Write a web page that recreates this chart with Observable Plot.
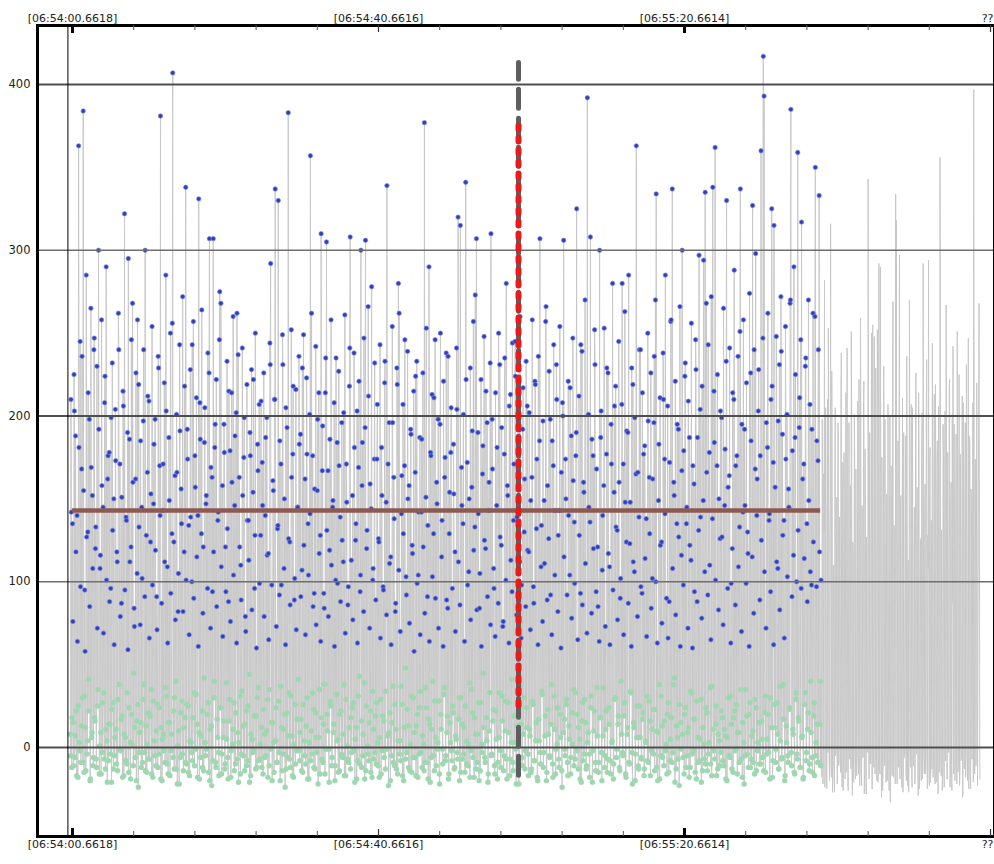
<!DOCTYPE html>
<html><head><meta charset="utf-8">
<script src="https://cdn.jsdelivr.net/npm/d3@7"></script>
<script src="https://cdn.jsdelivr.net/npm/@observablehq/plot@0.6"></script>
<style>html,body{margin:0;padding:0;background:#fff;overflow:hidden}#chart svg{display:block}</style>
</head><body><div id="chart"></div>
<script>
// sample times: seconds relative to 06:54:00.6618
const firstSampleTime = -0.3;
const samplePeriod = 0.1;
// channel A samples carrying dots (blue = peaks, green = lows)
const dotted = [
8,210,-12,135,15,225,-6,188,22,140,-18,363,3,245,-9,168,30,384,-15,95,12,285,-4,130,41,198,-20,265,6,152,-11,240,18,120,-7,230,25,300,-16,108,9,258,-3,145,33,208,-13,290,4,162,
-8,178,14,96,-21,232,27,150,-5,204,11,118,-14,262,38,171,-2,87,19,215,-17,322,6,139,-10,190,295,24,112,-19,246,2,160,45,73,-6,226,16,258,-24,133,9,185,-12,102,29,240,-3,300,13,
-15,166,21,209,-7,124,35,254,-18,147,4,198,-11,91,26,236,-4,170,381,12,-20,143,8,220,-9,285,31,109,-16,187,15,250,-2,129,407,22,-13,164,40,201,-22,82,10,243,-6,156,28,272,-14,118,
18,338,-10,192,25,134,-17,228,3,100,-8,257,33,176,-1,211,14,140,331,-19,186,7,264,-12,121,42,205,-5,152,20,238,-15,307,11,169,-23,94,307,30,181,-9,222,17,137,-3,246,24,268,-16,158,
6,195,-13,121,39,233,-6,88,16,179,-18,214,2,260,27,146,-10,202,262,9,-21,163,31,110,-4,241,13,175,-14,79,22,219,-8,137,44,190,-17,228,5,154,-2,96,250,19,-12,183,36,207,-7,128,
12,172,-16,226,8,140,-5,199,29,117,-11,244,292,15,-20,161,3,210,337,24,-9,132,330,-3,185,37,98,-14,231,11,150,-24,205,21,-6,383,33,124,-12,252,7,177,-18,89,26,216,-2,145,41,236,
-8,189,17,107,-15,249,4,162,-10,223,30,135,-19,201,357,10,-4,176,23,93,-13,242,6,155,-22,214,35,128,310,-7,194,14,84,-16,235,305,20,167,-1,119,28,258,-11,145,9,208,-20,101,32,184,
5,227,-14,139,22,196,-6,112,38,261,-17,171,1,86,-9,218,308,18,-3,152,27,238,-21,125,12,203,-8,169,43,94,300,-12,184,8,247,-19,306,25,131,-4,212,15,159,-15,278,34,108,-7,232,19,
-10,174,3,126,-18,243,29,181,-2,97,16,220,-13,148,339,7,-23,196,21,115,-5,254,37,163,-11,82,11,229,-16,280,262,4,-8,141,26,207,-20,170,48,103,-3,239,13,158,-14,192,31,122,-6,215,
9,166,-17,233,20,104,-4,187,34,142,-12,226,2,377,-9,151,24,91,-19,290,14,178,-6,213,40,129,-14,246,6,160,-1,198,28,-22,250,11,137,-10,221,36,175,-5,89,19,236,-16,154,3,205,-8,
25,183,-13,118,7,241,-3,320,17,-20,315,30,146,-7,201,12,-15,341,4,172,-11,106,39,229,-2,157,21,257,-18,133,8,307,-9,190,27,84,-14,222,2,165,45,248,-6,120,18,196,-21,143,10,232,
310,-4,168,23,96,-16,214,5,181,-9,250,33,127,-12,193,16,76,-5,235,28,280,-19,152,9,206,-7,113,41,244,-14,171,3,224,-22,139,20,188,-6,260,14,98,-11,217,30,162,-2,233,12,119,-17,
202,7,149,-13,258,26,87,-8,219,15,174,-20,236,4,307,-10,134,32,197,-3,111,19,266,-15,158,8,227,-6,92,38,185,-18,243,11,143,-1,210,24,128,-12,254,6,166,-24,200,306,17,-5,150,29,
-9,221,13,104,-16,188,2,247,35,136,-7,176,325,20,-13,212,5,93,-21,239,27,160,-4,270,15,-11,392,9,145,-18,308,31,186,-2,120,22,231,-14,168,7,85,-9,300,18,203,-20,140,36,253,-5,
11,177,-15,226,24,109,-8,195,3,280,-19,154,29,218,-6,131,14,245,-12,90,40,207,-3,171,19,263,-16,124,8,190,285,-10,148,33,229,-22,112,12,199,-4,363,25,166,-13,240,6,97,-7,214,21,
-17,182,4,138,31,250,-9,163,16,226,-2,102,23,196,-14,270,334,10,-20,149,38,211,-5,124,13,238,-11,174,285,2,-16,206,27,88,-8,257,18,337,-3,160,42,221,-13,135,6,192,-23,266,15,116,
300,-6,179,20,232,-12,145,9,209,-18,122,34,256,-4,170,17,94,-15,228,28,187,-9,297,5,139,-21,218,12,294,-7,335,24,166,-14,243,3,110,-10,272,37,338,-2,184,362,14,-17,225,8,150,-11,
203,22,127,-8,265,11,180,-19,330,6,157,-5,241,31,99,-13,214,18,288,-2,170,26,-16,236,9,133,337,-7,195,15,258,-22,146,35,220,-4,117,20,274,-12,185,7,327,-9,240,29,298,-14,162,3,
228,-10,176,360,16,-6,417,393,21,-15,196,5,262,-3,141,30,210,325,-18,172,315,12,-9,248,27,108,-13,231,4,272,-7,189,38,137,-20,254,13,201,-5,156,24,268,385,-11,179,8,290,-16,225,33,
-4,359,18,193,-12,246,317,7,-19,171,26,230,-8,135,11,270,-14,207,40,98,-6,262,19,-17,350,3,185,-9,240,333,14,-11
];
// channel B samples (half a period later) carrying dots
const dottedB = [
-5,142,18,76,-11,203,7,118,-17,64,25,181,-2,97,13,236,-9,155,31,58,-14,127,4,214,22,85,-19,169,9,108,-6,247,16,133,-12,72,35,192,1,116,-16,158,27,69,-7,224,11,101,-21,176,
14,88,-4,199,23,131,-13,62,6,173,-10,112,29,240,-1,79,17,151,-18,206,8,95,-8,137,33,59,-15,186,3,121,20,268,-11,84,12,162,-20,105,26,219,-3,74,15,145,-9,197,38,91,-14,128,
2,212,-7,66,19,153,-16,98,28,183,-5,119,10,71,-12,229,24,140,-19,87,5,171,-2,112,36,203,-10,63,15,149,-17,93,8,256,-6,124,30,77,-13,166,1,105,-22,191,21,135,-4,82,12,218,
-9,101,26,174,-15,68,4,139,-3,243,18,90,-11,157,32,115,-18,61,9,208,-6,129,22,81,-14,184,3,147,-1,96,27,226,-20,72,13,163,-8,118,40,195,-12,85,6,142,-17,275,24,109,-4,67,
16,178,-10,94,5,132,-19,215,29,76,-2,160,11,104,-14,188,21,63,-7,237,3,121,-16,89,34,152,-5,199,14,70,-11,137,25,113,-21,176,8,83,-3,222,19,128,-13,60,30,167,-8,99,2,209,
-12,146,23,79,-6,187,10,116,-18,65,35,231,-1,98,15,155,-15,210,4,73,-9,134,28,92,-20,171,12,249,-4,108,20,62,-13,193,7,126,-7,86,31,163,-17,218,2,102,-10,71,17,145,-2,183,
9,91,-14,229,26,122,-5,68,13,177,-19,104,3,141,-8,262,33,85,-12,156,21,74,-3,198,6,117,-16,64,18,167,-9,93,38,214,-1,131,10,79,-21,186,25,110,-6,149,14,61,-11,235,4,99,
-15,170,20,88,-4,125,8,202,-17,69,29,148,-7,97,12,241,-13,113,24,77,-2,181,5,135,-19,63,31,221,-10,104,16,158,-5,82,39,193,-14,120,1,266,-8,72,22,144,-18,101,11,174,-3,89,
27,207,-11,124,6,66,-16,152,19,95,-6,233,34,80,-1,171,9,111,-20,62,15,196,-9,138,26,87,-13,219,4,107,-4,70,37,164,-17,129,12,246,-7,92,23,150,-12,75,2,189,-15,117,30,58,
-6,224,13,99,-18,142,24,68,-3,186,7,121,-14,81,36,253,-9,134,17,64,-21,176,11,103,-5,211,28,90,-11,147,3,72,-16,195,20,115,-1,61,32,163,-8,238,9,84,-19,129,15,178,-2,96,
21,153,-12,70,5,204,-7,112,30,86,-15,169,14,135,-4,64,25,222,-10,98,2,150,-18,77,35,191,-6,119,18,273,-13,83,8,141,-20,105,27,61,-3,182,12,125,-9,215,4,91,-16,160,33,74,
-5,198,16,108,-11,67,22,146,-19,87,6,231,-2,122,31,73,-14,177,10,101,-7,158,27,63,-17,213,3,94,-9,137,19,245,-1,80,13,169,-22,112,37,66,-6,192,8,130,-13,85,24,206,-4,118,
11,71,-15,163,28,97,-8,221,4,132,-18,62,17,185,-3,109,34,76,-12,149,7,257,-20,89,23,126,-5,198,14,68,-10,170,31,104,-16,231,2,82,-7,143,20,60,-14,208,9,115,-1,174,26,92,
-17,140,5,217,-6,78,21,161,-11,99,33,190,-2,65,12,128,-19,243,16,86,-8,154,29,111,-13,69,3,201,-4,136,24,81,-21,176,10,252,-9,94,36,121,-15,64,18,187,-3,107,7,158,-12,73,
22,229,-7,117,14,62,-16,171,4,95,-10,206,30,133,-1,77,19,160,-14,102,8,280,-5,68,27,148,-18,191,12,87,-9,123,34,61,-3,219,15,106,-20,165,6,79,-11,139,25,240,-6,93,17,177,
-13,114,3,67,-8,197,28,129,-17,84,11,162,-4,236,23,100,-12,63,9,183,-19,122,31,75,-6,210,16,141,-2,90,20,66,-15,172,5,258,-9,108,38,152,-21,80,13,195,-7,127,26,61,-1,167,
8,98,-16,224,24,135,-5,72,12,187,-12,113,33,60,-2,159,17,246,-19,88,6,131,-8,204,29,78,-14,149,2,106,-10,268,21,92,-4,178,36,65,-17,138,11,215,-7,101,25,170,-13,83,4,126,
-3,199,18,74,-11,146,7,233,-20,96,30,164,-6,63,14,120,-15,210,22,86,-1,176,9,109,-9,251,35,70,-18,142,3,192,-5,99,19,130,-12,61,27,226,-7,115,10,81,-16,168,24,140,-2,203,
15,89,-10,125,5,247,-14,106,31,72,-4,181,20,137,-19,94,12,218,-8,62,26,157,-1,112,8,197,-13,83,37,239,-6,128,17,66,-17,174,3,103,-9,145,23,270,-3,91,11,116,-15,187,29,100,
-7,131,16,211,-12,96,6,162,-18,114,33,235,-3,88,21,149,-10,106,9,192,-15,124,27,260,-5,97,14,173,-9,118,40,101
];
// trailing samples drawn without dots (channel A, then channel B)
const tail = [
-14,198,-22,165,282,-9,140,-25,210,253,-6,120,316,-18,176,-11,92,-27,205,-3,151,-20,188,-8,110,-15,238,-24,172,-5,133,-19,214,-10,86,-26,196,-7,158,251,-13,124,-21,201,-4,168,-17,99,-9,222,
-23,259,-12,146,-6,213,-28,180,-15,127,-2,343,-19,190,-10,162,-25,255,-7,248,-16,229,-4,252,-21,292,-13,290,-8,175,-26,141,-11,198,-3,115,-20,207,-14,88,-33,170,-9,223,-18,134,-5,334,318,-22,
185,-12,297,-7,152,-24,211,-15,104,-3,188,-20,166,-10,-27,270,-6,139,-17,205,-11,118,-22,193,-4,157,-14,214,-25,96,-8,176,-19,292,-2,143,-16,200,-9,128,294,-23,181,-13,-5,244,-18,162,-7,219,
-21,170,-10,206,-15,356,-4,131,-26,195,-12,112,-8,267,-19,178,-3,215,-24,146,-11,201,242,-16,122,-6,189,-22,158,-9,225,-17,104,-5,212,-28,167,-13,196,-2,137,-20,247,-10,183,-25,151,-7,208,397,-15,174,-11,220,-23,141,268,-19
];
const tailB = [
-18,172,-8,131,-24,205,-12,94,-3,188,-20,146,-9,227,-27,110,-14,163,-5,82,-22,196,-11,139,-2,215,-17,101,-26,178,-7,124,-15,241,-21,89,-4,157,-13,199,-29,116,-8,170,-19,75,-1,209,-16,134,
-10,186,-23,98,-6,221,-14,143,-28,67,-3,193,-18,127,-9,250,-25,106,-12,164,-2,88,-20,212,-7,141,-16,176,-30,95,-11,230,-4,118,-21,153,-13,72,-26,200,-8,132,-17,269,-5,104,-22,181,
-14,91,-3,217,-19,149,-10,121,-27,190,-6,79,-15,236,-23,113,-1,168,-12,207,-24,97,-8,145,-18,226,-4,85,-29,180,-11,126,-20,202,-7,65,-16,159,-2,234,-25,108,-9,174,-21,137,-13,92,
-5,213,-22,150,-10,185,-28,117,-3,240,-17,78,-12,166,-24,203,-6,134,-19,99,-1,222,-14,160,-26,87,-9,195,-20,128,-4,251,-15,112,-23,177,-8,70,-30,208,-11,143,-18,231,-2,103,-25,188,-13,156,-7,94,-21,219,-16,125
];
const meanValue = 143;
const meanSpan = [0, 97.8];
const cursorTime = 58.3;
const cursorSpan = [-17, 413];
const cursorHits = [25, 375];
const startMarkerTime = -0.6;
const majorTicks = [0, 40, 80, 120];
const majorLabels = ["[06:54:00.6618]", "[06:54:40.6616]", "[06:55:20.6614]", "???"];
const boldTicks = [0, 80];
const minorTicks = [8, 16, 24, 32, 48, 56, 64, 72, 88, 96, 104, 112];
const yTicks = [0, 100, 200, 300, 400];
const strongGrid = [0, 200, 400];
const lightGrid = [100, 300];
const xDomain = [-4.575, 120.52];
const yDomain = [-53.7, 435.6];

const chanA = dotted.concat(tail).map((v, i) => ({t: firstSampleTime + i * samplePeriod, v, dot: i < dotted.length}));
const chanB = dottedB.concat(tailB).map((v, i) => ({t: firstSampleTime + samplePeriod / 2 + i * samplePeriod, v, dot: i < dottedB.length}));
const all = chanA.concat(chanB).sort((a, b) => a.t - b.t);
const dots = all.filter(d => d.dot);
const lows = dots.filter(d => d.v <= 50);
const highs = dots.filter(d => d.v > 50);

const chart = Plot.plot({
  width: 994, height: 864,
  marginLeft: 37, marginRight: 0, marginTop: 25, marginBottom: 28,
  x: {domain: xDomain, axis: null},
  y: {domain: yDomain, axis: null},
  style: {fontFamily: "DejaVu Sans", fontSize: "11px", color: "#111", background: "#fff", overflow: "visible"},
  marks: [
    Plot.line(all, {x: "t", y: "v", stroke: "#c8c8c8", strokeWidth: 1}),
    Plot.dot(lows, {x: "t", y: "v", r: 2.7, fill: "#9fd8b0", stroke: "none"}),
    Plot.dot(highs, {x: "t", y: "v", r: 2.2, fill: "#2d3fbf", stroke: "#7a86dc", strokeWidth: 0.7}),
    Plot.ruleY(lightGrid, {stroke: "#6e6e6e", strokeWidth: 1.6}),
    Plot.ruleY(strongGrid, {stroke: "#4e4e4e", strokeWidth: 2.2}),
    Plot.ruleY([meanValue], {x1: () => meanSpan[0], x2: () => meanSpan[1], stroke: "#8c5a52", strokeWidth: 4.5}),
    Plot.ruleX([cursorTime], {y1: () => cursorSpan[0], y2: () => cursorSpan[1], stroke: "#5e5e5e", strokeWidth: 5, strokeDasharray: "19,10", strokeLinecap: "round"}),
    Plot.ruleX([cursorTime], {y1: () => cursorHits[0], y2: () => cursorHits[1], stroke: "#e61b1b", strokeWidth: 6, strokeDasharray: "4,8", strokeLinecap: "round"}),
    Plot.ruleX([startMarkerTime], {stroke: "#000", strokeWidth: 1}),
    Plot.frame({stroke: "#000", strokeWidth: 3}),
    Plot.ruleX(minorTicks, {stroke: "#555", strokeWidth: 1, insetBottom: 806}),
    Plot.ruleX(minorTicks, {stroke: "#555", strokeWidth: 1, insetTop: 806}),
    Plot.ruleX(majorTicks, {stroke: "#333", strokeWidth: 1.2, insetBottom: 804}),
    Plot.ruleX(majorTicks, {stroke: "#333", strokeWidth: 1.2, insetTop: 804}),
    Plot.ruleX(boldTicks, {stroke: "#000", strokeWidth: 3, insetBottom: 803}),
    Plot.ruleX(boldTicks, {stroke: "#000", strokeWidth: 3, insetTop: 803}),
    Plot.text(majorTicks, {x: d => d, text: (d, i) => majorLabels[i], frameAnchor: "top", lineAnchor: "bottom", dy: -4, fill: "#222"}),
    Plot.text(majorTicks, {x: d => d, text: (d, i) => majorLabels[i], frameAnchor: "bottom", lineAnchor: "top", dy: 4, fill: "#222"}),
    Plot.text(yTicks, {y: d => d, text: d => String(d), frameAnchor: "left", textAnchor: "end", dx: -7, fill: "#222", fontSize: 11.5})
  ]
});
document.getElementById("chart").append(chart);
</script>
</body></html>
